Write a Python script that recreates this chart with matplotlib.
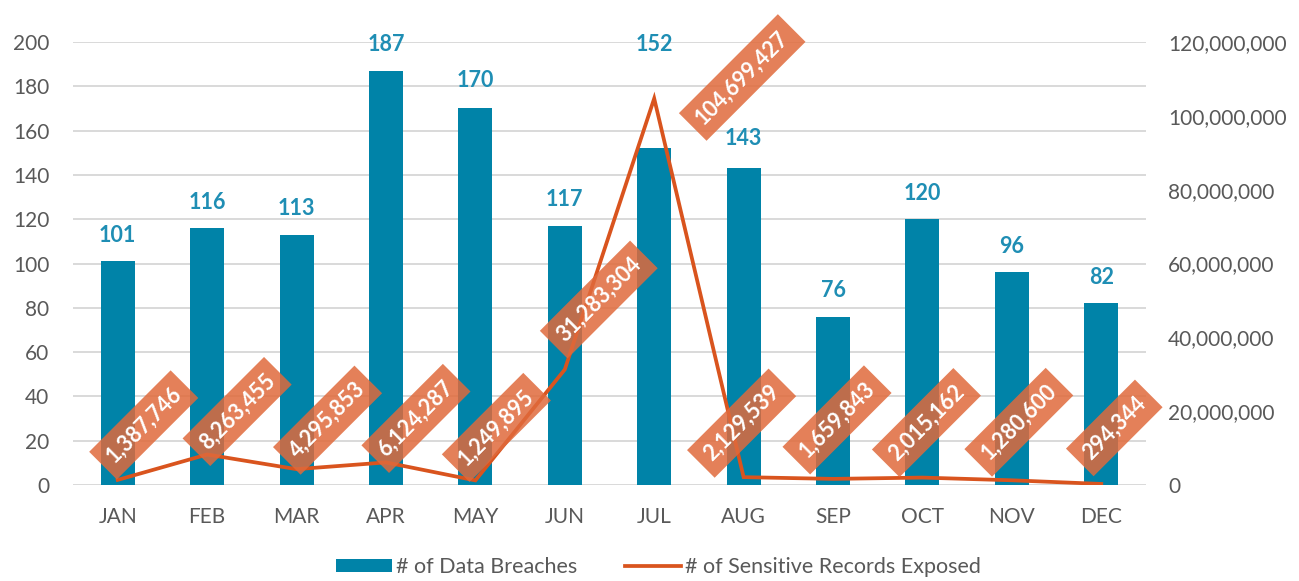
import matplotlib
matplotlib.use("Agg")
import matplotlib.pyplot as plt
from matplotlib.ticker import FuncFormatter, MultipleLocator

plt.rcParams['font.family'] = ['Lato', 'DejaVu Sans']

# data
months = ["JAN", "FEB", "MAR", "APR", "MAY", "JUN", "JUL", "AUG", "SEP", "OCT", "NOV", "DEC"]
breaches = [101, 116, 113, 187, 170, 117, 152, 143, 76, 120, 96, 82]
records = [1387746, 8263455, 4295853, 6124287, 1249895, 31283304,
           104699427, 2129539, 1659843, 2015162, 1280600, 294344]

# where each rotated record label sits relative to its point (pixels)
label_offsets = [(26, 55), (30, 43), (31, 49), (30, 44), (21, 53), (34, 70),
                 (88, 21), (-2, 54), (4, 59), (4, 55), (7, 58), (13, 56)]
# height of each bar value label above the bar top (pixels)
bar_label_rise = [26, 26, 26, 26, 28, 26, 104, 30, 26, 26, 26, 26]

bar_color = "#0083A8"
line_color = "#D9541E"
text_gray = "#595959"

fig = plt.figure(figsize=(12.99, 5.81), dpi=100)
ax = fig.add_axes([0.0562, 0.1652, 0.8260, 0.7625])
ax2 = ax.twinx()

x = range(len(months))
ax.bar(x, breaches, width=0.38, color=bar_color, label="# of Data Breaches", zorder=2)
for i, v in enumerate(breaches):
    ax.annotate(str(v), (i, v), xytext=(0, bar_label_rise[i]), textcoords="offset pixels",
                ha="center", va="center", fontsize=15.5, fontweight="bold",
                color="#1F8EB4")

ax2.plot(x, records, color=line_color, lw=2.7, label="# of Sensitive Records Exposed",
         solid_joinstyle="miter", zorder=3)
for i, v in enumerate(records):
    ax2.annotate(f"{v:,}", (i, v), xytext=label_offsets[i], textcoords="offset pixels",
                 ha="center", va="center", rotation=45, rotation_mode="anchor",
                 fontsize=15.5, fontweight="bold", color="white", zorder=5,
                 bbox=dict(boxstyle="square,pad=0.42", fc="#E06A3C", ec="none", alpha=0.85))

# axes
ax.set_xlim(-0.5, 11.5)
ax.set_ylim(0, 200)
ax.yaxis.set_major_locator(MultipleLocator(20))
ax2.set_ylim(0, 120000000)
ax2.yaxis.set_major_locator(MultipleLocator(20000000))
ax2.yaxis.set_major_formatter(FuncFormatter(lambda v, p: f"{int(v):,}"))

ax.set_xticks(list(x))
ax.set_xticklabels(months)
ax.grid(axis="y", color="#D9D9D9", lw=1.4)
ax.set_axisbelow(True)

for a in (ax, ax2):
    for s in a.spines.values():
        s.set_visible(False)
ax.tick_params(axis="x", length=0, pad=16, labelsize=15, labelcolor=text_gray)
ax.tick_params(axis="y", length=0, pad=17, labelsize=15, labelcolor=text_gray)
ax2.tick_params(axis="y", length=0, pad=16, labelsize=15, labelcolor=text_gray)

# legend
h1, l1 = ax.get_legend_handles_labels()
h2, l2 = ax2.get_legend_handles_labels()
fig.legend(h1 + h2, l1 + l2, loc="center", bbox_to_anchor=(0.507, 0.024), ncol=2,
           frameon=False, fontsize=15.5, labelcolor=text_gray,
           handlelength=2.6, handleheight=0.6, handletextpad=0.2, columnspacing=2.2)

fig.savefig("out.png", dpi=100)
